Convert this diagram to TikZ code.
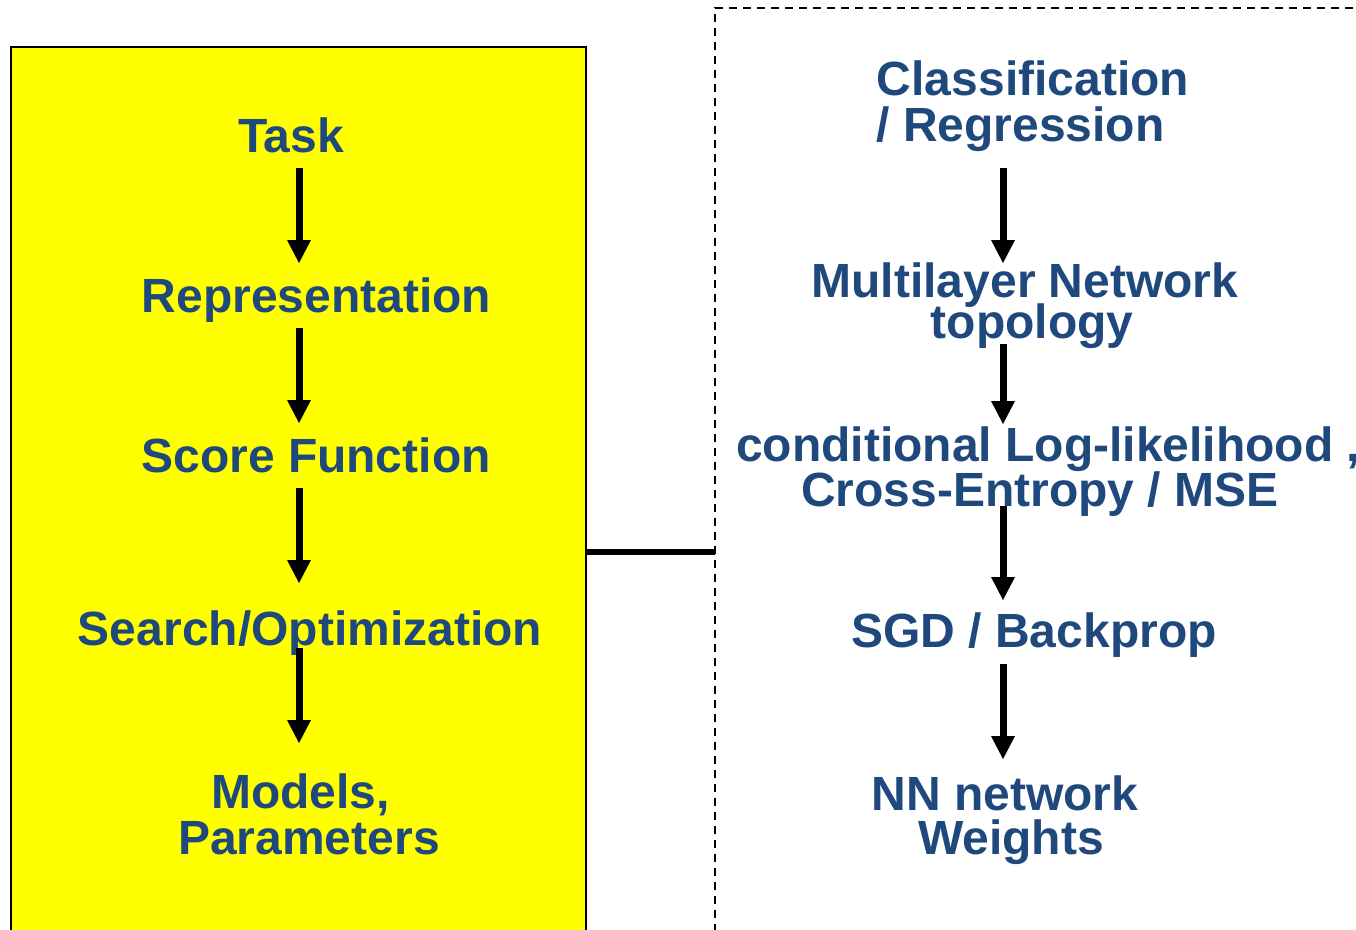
\documentclass[tikz,border=0pt]{standalone}
\usepackage{fontspec}
\setmainfont{Liberation Sans}
\usetikzlibrary{arrows.meta}
\definecolor{labelblue}{RGB}{31,73,125}
\definecolor{panelyellow}{RGB}{255,255,0}
\begin{document}
\begin{tikzpicture}[x=1pt,y=-1pt,
  lbl/.style={anchor=base,inner sep=0pt,text=labelblue,
              font=\fontsize{48}{48}\selectfont\bfseries},
  flow/.style={line width=7pt,-{Triangle[width=24pt,length=23pt,line width=0pt]}},
  panel/.style={line width=2pt,fill=panelyellow},
  frame/.style={line width=1.5pt,dash pattern=on 8pt off 6pt},
  link/.style={line width=6pt}]
\useasboundingbox (0,0) rectangle (1356,929);
\clip (0,0) rectangle (1356,929);

% panels
\draw[panel] (11,47) rectangle (586,960);
\draw[frame] (715,960) -- (715,8) -- (1400,8);
\coordinate (panelR) at (586,552);
\coordinate (frameL) at (715,552);
\draw[link] (panelR) -- (frameL);

% left column: generic pipeline
\node[lbl] (task)   at (291,152)   {Task};
\node[lbl] (repr)   at (316.5,312) {Representation};
\node[lbl] (score)  at (316,472)   {Score Function};
\node[lbl] (search) at (310,645)   {Search/Optimization};
\node[lbl] (models) at (300.5,808) {Models,};
\node[lbl] (params) at (309,854)   {Parameters};

% right column: neural network instance
\node[lbl] (cls)  at (1033,95)   {Classification};
\node[lbl] (reg)  at (1020.5,141){/ Regression};
\node[lbl] (mln)  at (1025,297)  {Multilayer Network};
\node[lbl] (topo) at (1032,338)  {topology};
\node[lbl] (cll)  at (1048,461)  {conditional Log-likelihood ,};
\node[lbl] (ce)   at (1040,506)  {Cross-Entropy / MSE};
\node[lbl] (sgd)  at (1034,647)  {SGD / Backprop};
\node[lbl] (nn)   at (1005,810)  {NN network};
\node[lbl] (wts)  at (1011,854)  {Weights};

% arrow end points
\coordinate (l1s) at (299,168); \coordinate (l1e) at (299,263);
\coordinate (l2s) at (299,328); \coordinate (l2e) at (299,423);
\coordinate (l3s) at (299,488); \coordinate (l3e) at (299,583);
\coordinate (l4s) at (299,648); \coordinate (l4e) at (299,743);
\coordinate (r1s) at (1003,168); \coordinate (r1e) at (1003,263);
\coordinate (r2s) at (1003,344); \coordinate (r2e) at (1003,424);
\coordinate (r3s) at (1003,506); \coordinate (r3e) at (1003,600);
\coordinate (r4s) at (1003,664); \coordinate (r4e) at (1003,759);

\foreach \p in {l1,l2,l3,l4,r1,r2,r3,r4}
  \draw[flow] (\p s) -- (\p e);
\end{tikzpicture}
\end{document}
